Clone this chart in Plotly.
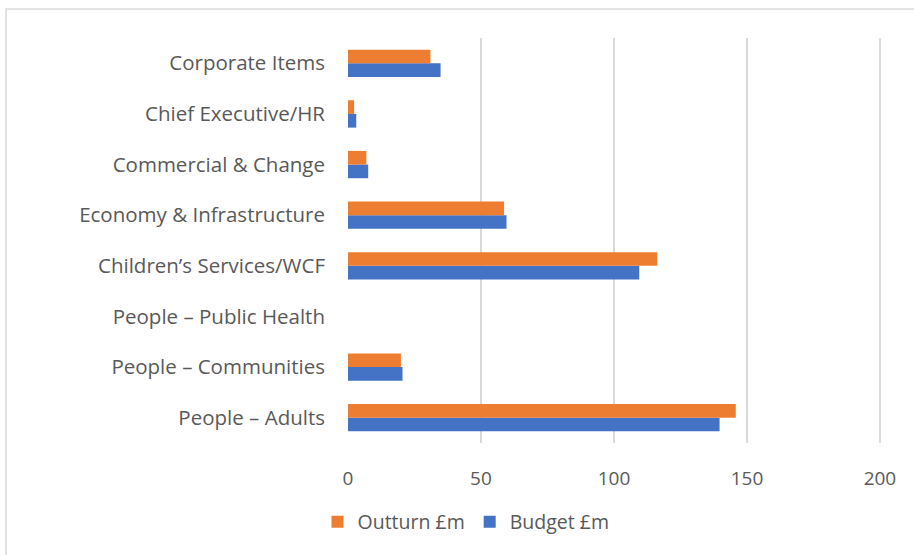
import plotly.graph_objects as go

categories = ["People – Adults", "People – Communities", "People – Public Health",
              "Children’s Services/WCF", "Economy & Infrastructure", "Commercial & Change",
              "Chief Executive/HR", "Corporate Items"]
outturn = [145.8, 19.9, 0, 116.3, 58.7, 6.9, 2.3, 31.0]
budget = [139.7, 20.5, 0, 109.5, 59.6, 7.6, 3.1, 34.8]
x_ticks = [0, 50, 100, 150, 200]

W, H = 914, 555
L, R, T, B = 348, 881, 38, 443

fig = go.Figure()
fig.add_trace(go.Bar(y=categories, x=budget, name="Budget £m", orientation="h",
                     marker=dict(color="#4472C4", line=dict(width=0))))
fig.add_trace(go.Bar(y=categories, x=outturn, name="Outturn £m", orientation="h",
                     marker=dict(color="#ED7D31", line=dict(width=0))))

font_family = "Open Sans, Noto Sans, Liberation Sans, sans-serif"
fig.update_layout(
    width=W, height=H,
    margin=dict(l=L, r=W - R, t=T, b=H - B, pad=0),
    paper_bgcolor="white", plot_bgcolor="white",
    barmode="group", bargap=0.46, bargroupgap=0,
    font=dict(family=font_family, color="#595959", size=19),
    showlegend=True,
    legend=dict(orientation="h", traceorder="reversed", x=(466 - L) / (R - L), xanchor="center",
                y=(B - 522) / (B - T), yanchor="middle", font=dict(size=19.5),
                itemwidth=30, bgcolor="rgba(0,0,0,0)"),
    xaxis=dict(range=[0, 200.4], tickvals=x_ticks, showgrid=True, gridcolor="#D9D9D9",
               gridwidth=1.5, zeroline=False, showline=False, ticks="",
               ticklabelstandoff=22, tickfont=dict(size=19)),
    yaxis=dict(showgrid=False, zeroline=False, showline=False, ticks="",
               ticklabelstandoff=22, tickfont=dict(size=20.5)),
    shapes=[dict(type="rect", xref="paper", yref="paper",
                 x0=(6 - L) / (R - L), x1=(916 - L) / (R - L),
                 y0=(B - 560) / (B - T), y1=(B - 9) / (B - T),
                 line=dict(color="#D9D9D9", width=1.5), fillcolor="rgba(0,0,0,0)", layer="below")],
)

fig.write_html("out.html", config={"displayModeBar": False},
               post_script="document.body.style.margin='0';")
